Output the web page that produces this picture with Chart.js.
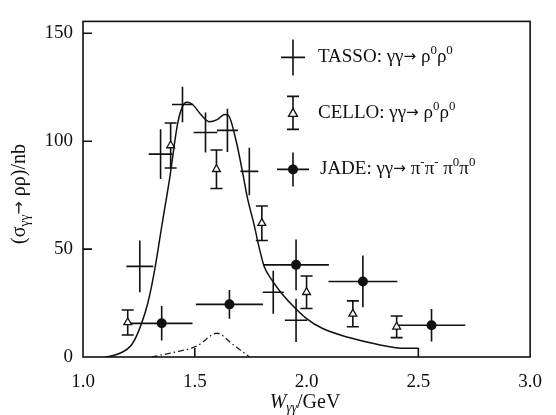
<!DOCTYPE html>
<html>
<head>
<meta charset="utf-8">
<script src="https://cdn.jsdelivr.net/npm/chart.js@4/dist/chart.umd.min.js"></script>
<style>
  html, body { margin: 0; padding: 0; background: #fff; }
  #wrap { width: 556px; height: 415px; }
</style>
</head>
<body>
<div id="wrap"><canvas id="myChart" width="556" height="415"></canvas></div>
<script>
'use strict';

// TASSO: gg -> rho0 rho0 (crosses)
var tassoX = [1.254, 1.347, 1.445, 1.548, 1.646, 1.744, 1.851, 1.953];
var tassoY = [42, 94, 117, 104, 105, 86, 30, 17];
var tassoXErr = [0.06, 0.053, 0.047, 0.053, 0.047, 0.04, 0.047, 0.05];
var tassoYErr = [12, 11.5, 8.2, 9.3, 10, 11, 10, 10];

// CELLO: gg -> rho0 rho0 (open triangles)
var celloX = [1.20, 1.392, 1.597, 1.80, 2.0, 2.207, 2.403];
var celloY = [16, 98, 87, 62, 30, 20, 14];
var celloYErr = [5.8, 10.4, 8.9, 8, 7.5, 6, 5];

// JADE: gg -> pi pi pi0 pi0 (filled circles)
var jadeX = [1.352, 1.655, 1.953, 2.252, 2.559];
var jadeY = [15.6, 24.4, 42.7, 35, 14.7];
var jadeXErr = [0.138, 0.15, 0.147, 0.154, 0.151];
var jadeYErr = [8, 6.7, 11.8, 12, 7.5];

// model curve (solid)
var modelX = [1.10, 1.16, 1.22, 1.26, 1.29, 1.32, 1.356, 1.388, 1.423, 1.445, 1.465, 1.49, 1.53, 1.566, 1.60, 1.633, 1.65, 1.686, 1.713, 1.735, 1.766, 1.788, 1.81, 1.846, 1.886, 1.953, 2.0, 2.07, 2.19, 2.32, 2.44, 2.50];
var modelY = [0, 1.5, 6, 15, 25, 40, 63, 83, 108, 116, 118, 117, 112, 109, 110, 112.4, 112, 99.6, 86, 74, 61, 50.7, 42, 35.5, 29.8, 22.2, 17.8, 13.3, 9, 5.8, 4, 4];

// small dash-dot curve
var smallX = [1.307, 1.40, 1.508, 1.60, 1.668, 1.745];
var smallY = [0, 2, 5, 11, 6, 0];

var xTicks = [1.0, 1.5, 2.0, 2.5, 3.0];
var yTicks = [0, 50, 100, 150];
var innerXTicks = [1.5, 2.5];

var SERIF = '"Liberation Serif", "DejaVu Serif", serif';

function pts(xs, ys) {
  return xs.map(function(x, i) { return {x: x, y: ys[i]}; });
}

function partFont(p, size) {
  if (p.arrow) return (size * 0.8) + 'px "DejaVu Sans", sans-serif';
  var s = p.sub || p.sup ? size * 0.68 : size;
  return (p.italic ? 'italic ' : '') + s + 'px ' + SERIF;
}

// draw a run of text pieces, some as sub- or superscript
function richText(ctx, x, y, parts, size) {
  parts.forEach(function(p) {
    var dy = p.sub ? size * 0.28 : (p.sup ? -size * 0.38 : 0);
    ctx.font = partFont(p, size);
    ctx.fillText(p.t, x, y + dy);
    x += ctx.measureText(p.t).width;
  });
  return x;
}

function textWidth(ctx, parts, size) {
  var w = 0;
  parts.forEach(function(p) {
    ctx.font = partFont(p, size);
    w += ctx.measureText(p.t).width;
  });
  return w;
}

function crossBar(ctx, cx, cy, hx, hy) {
  ctx.beginPath();
  ctx.moveTo(cx - hx, cy); ctx.lineTo(cx + hx, cy);
  ctx.moveTo(cx, cy - hy); ctx.lineTo(cx, cy + hy);
  ctx.stroke();
}

function cappedBar(ctx, cx, y1, y2, cap) {
  ctx.beginPath();
  ctx.moveTo(cx, y1); ctx.lineTo(cx, y2);
  ctx.moveTo(cx - cap, y1); ctx.lineTo(cx + cap, y1);
  ctx.moveTo(cx - cap, y2); ctx.lineTo(cx + cap, y2);
  ctx.stroke();
}

var errorBars = {
  id: 'errorBars',
  beforeDatasetsDraw: function(chart) {
    var ctx = chart.ctx, xs = chart.scales.x, ys = chart.scales.y;
    ctx.save();
    ctx.strokeStyle = '#111';
    ctx.lineWidth = 1.6;
    tassoX.forEach(function(x, i) {
      var y = tassoY[i];
      ctx.beginPath();
      ctx.moveTo(xs.getPixelForValue(x - tassoXErr[i]), ys.getPixelForValue(y));
      ctx.lineTo(xs.getPixelForValue(x + tassoXErr[i]), ys.getPixelForValue(y));
      ctx.moveTo(xs.getPixelForValue(x), ys.getPixelForValue(y - tassoYErr[i]));
      ctx.lineTo(xs.getPixelForValue(x), ys.getPixelForValue(y + tassoYErr[i]));
      ctx.stroke();
    });
    jadeX.forEach(function(x, i) {
      var y = jadeY[i];
      ctx.beginPath();
      ctx.moveTo(xs.getPixelForValue(x - jadeXErr[i]), ys.getPixelForValue(y));
      ctx.lineTo(xs.getPixelForValue(x + jadeXErr[i]), ys.getPixelForValue(y));
      ctx.moveTo(xs.getPixelForValue(x), ys.getPixelForValue(y - jadeYErr[i]));
      ctx.lineTo(xs.getPixelForValue(x), ys.getPixelForValue(y + jadeYErr[i]));
      ctx.stroke();
    });
    celloX.forEach(function(x, i) {
      cappedBar(ctx, xs.getPixelForValue(x),
        ys.getPixelForValue(celloY[i] + celloYErr[i]),
        ys.getPixelForValue(celloY[i] - celloYErr[i]), 6);
    });
    ctx.restore();
  }
};

var frameAndText = {
  id: 'frameAndText',
  afterDraw: function(chart) {
    var ctx = chart.ctx, a = chart.chartArea, xs = chart.scales.x, ys = chart.scales.y;
    ctx.save();
    ctx.strokeStyle = '#111';
    ctx.fillStyle = '#111';
    ctx.lineWidth = 1.6;
    ctx.strokeRect(a.left, a.top, a.right - a.left, a.bottom - a.top);

    // inward ticks
    ctx.beginPath();
    yTicks.forEach(function(v) {
      if (v === 0) return;
      var py = ys.getPixelForValue(v);
      ctx.moveTo(a.left, py); ctx.lineTo(a.left + 9, py);
    });
    innerXTicks.forEach(function(v) {
      var px = xs.getPixelForValue(v);
      ctx.moveTo(px, a.bottom); ctx.lineTo(px, a.bottom - 9);
    });
    ctx.stroke();

    // axis titles
    ctx.textBaseline = 'middle';
    var xt = [{t: 'W', italic: true}, {t: '\u03b3\u03b3', sub: true, italic: true}, {t: '/GeV'}];
    var w = textWidth(ctx, xt, 20);
    richText(ctx, 305 - w / 2, 403, xt, 20);

    var yt = [{t: '(\u03c3'}, {t: '\u03b3\u03b3', sub: true}, {t: '\u2192', arrow: true}, {t: ' \u03c1\u03c1)/nb'}];
    ctx.save();
    ctx.translate(20, 194);
    ctx.rotate(-Math.PI / 2);
    w = textWidth(ctx, yt, 20);
    richText(ctx, -w / 2, 0, yt, 20);
    ctx.restore();

    // legend
    var lx = a.left + 210, ly = a.top + 36, step = 56, tx = a.left + 235;
    crossBar(ctx, lx, ly, 12, 18);
    ctx.textBaseline = 'middle';
    richText(ctx, tx, ly, [{t: 'TASSO: \u03b3\u03b3'}, {t: '\u2192', arrow: true}, {t: ' \u03c1'}, {t: '0', sup: true}, {t: '\u03c1'}, {t: '0', sup: true}], 19);

    var cy = ly + step;
    cappedBar(ctx, lx, cy - 17, cy + 16, 6);
    ctx.beginPath();
    ctx.moveTo(lx, cy - 5); ctx.lineTo(lx + 4.5, cy + 3); ctx.lineTo(lx - 4.5, cy + 3); ctx.closePath();
    ctx.fillStyle = '#fff'; ctx.fill(); ctx.lineWidth = 1.3; ctx.stroke();
    ctx.fillStyle = '#111'; ctx.lineWidth = 1.6;
    richText(ctx, tx, cy, [{t: 'CELLO: \u03b3\u03b3'}, {t: '\u2192', arrow: true}, {t: ' \u03c1'}, {t: '0', sup: true}, {t: '\u03c1'}, {t: '0', sup: true}], 19);

    var jy = ly + 2 * step;
    crossBar(ctx, lx, jy, 16, 17);
    ctx.beginPath(); ctx.arc(lx, jy, 5, 0, Math.PI * 2); ctx.fill();
    richText(ctx, tx + 2, jy, [{t: 'JADE: \u03b3\u03b3'}, {t: '\u2192', arrow: true}, {t: ' \u03c0'}, {t: '-', sup: true}, {t: '\u03c0'}, {t: '-', sup: true},
      {t: ' \u03c0'}, {t: '0', sup: true}, {t: '\u03c0'}, {t: '0', sup: true}], 19);
    ctx.restore();
  }
};

var ctx = document.getElementById('myChart').getContext('2d');
var myChart = new Chart(ctx, {
  type: 'scatter',
  data: {
    datasets: [
      {
        label: 'model',
        data: pts(modelX, modelY),
        showLine: true,
        borderColor: '#111',
        borderWidth: 1.5,
        pointRadius: 0,
        cubicInterpolationMode: 'monotone',
        fill: false
      },
      {
        label: 'small',
        data: pts(smallX, smallY),
        showLine: true,
        borderColor: '#222',
        borderWidth: 1.3,
        borderDash: [6, 3, 1.5, 3],
        pointRadius: 0,
        cubicInterpolationMode: 'monotone',
        fill: false
      },
      {
        label: 'TASSO',
        data: pts(tassoX, tassoY),
        pointRadius: 0
      },
      {
        label: 'CELLO',
        data: pts(celloX, celloY),
        pointStyle: 'triangle',
        pointRadius: 4.5,
        backgroundColor: '#fff',
        borderColor: '#111',
        borderWidth: 1.3
      },
      {
        label: 'JADE',
        data: pts(jadeX, jadeY),
        pointStyle: 'circle',
        pointRadius: 5,
        backgroundColor: '#111',
        borderColor: '#111',
        borderWidth: 0
      }
    ]
  },
  options: {
    responsive: false,
    animation: false,
    layout: { padding: { top: 7, right: 24, left: 0, bottom: 0 } },
    plugins: {
      legend: { display: false },
      tooltip: { enabled: false }
    },
    scales: {
      x: {
        type: 'linear',
        min: 1.0,
        max: 3.0,
        afterFit: function(s) { s.height = 58; },
        afterBuildTicks: function(s) { s.ticks = xTicks.map(function(v) { return {value: v}; }); },
        grid: { display: false, drawTicks: false },
        border: { display: false },
        ticks: {
          padding: 14,
          color: '#111',
          font: { family: SERIF, size: 19 },
          callback: function(v) { return v.toFixed(1); }
        }
      },
      y: {
        type: 'linear',
        min: 0,
        max: 155.5,
        afterFit: function(s) { s.width = 83; },
        afterBuildTicks: function(s) { s.ticks = yTicks.map(function(v) { return {value: v}; }); },
        grid: { display: false, drawTicks: false },
        border: { display: false },
        ticks: {
          padding: 10,
          color: '#111',
          font: { family: SERIF, size: 19 }
        }
      }
    }
  },
  plugins: [errorBars, frameAndText]
});
</script>
</body>
</html>
